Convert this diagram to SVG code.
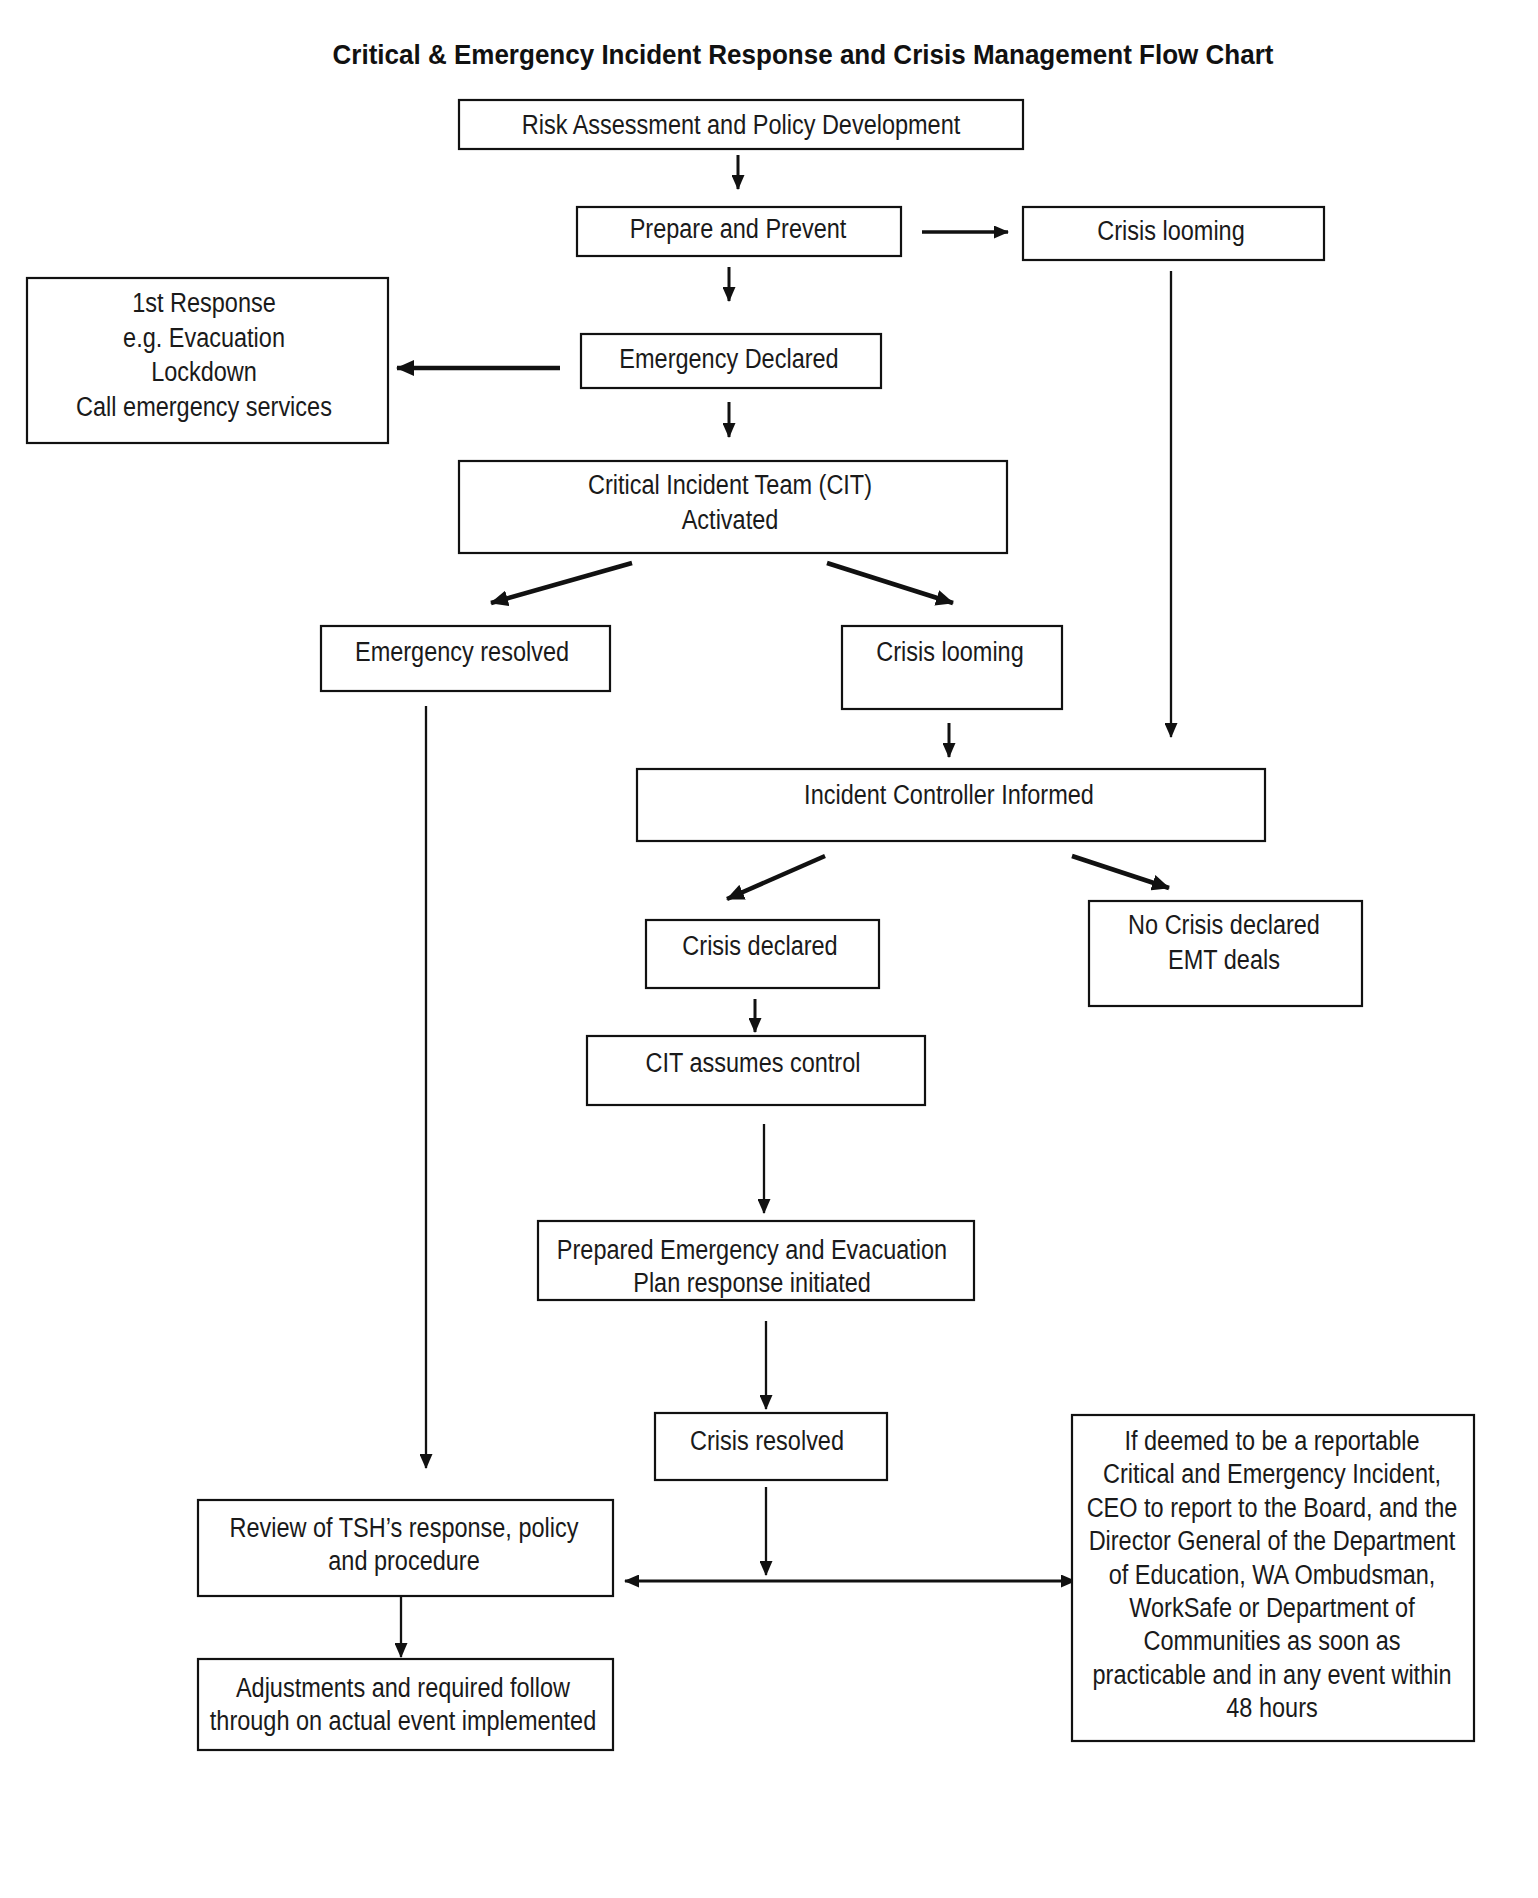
<svg xmlns="http://www.w3.org/2000/svg" width="1538" height="1898" viewBox="0 0 1538 1898">
<style>
.box{fill:#fff;stroke:#111;stroke-width:2.2}
.t{font-family:"Liberation Sans",Arial,sans-serif;font-size:27px;fill:#1a1a1a;text-anchor:middle}
.title{font-family:"Liberation Sans",Arial,sans-serif;font-size:28px;font-weight:bold;fill:#111;text-anchor:middle}
.c{stroke:#111;fill:none;stroke-width:3;marker-end:url(#ah)}
.thick{stroke-width:4.5;marker-end:url(#ahb)}
.thin{stroke-width:2.3}
</style>
<defs>
<marker id="ah" markerUnits="userSpaceOnUse" markerWidth="15" markerHeight="13" refX="14" refY="6.5" orient="auto-start-reverse" viewBox="0 0 15 13">
<path d="M0,0 L15,6.5 L0,13 z" fill="#111"/>
</marker>
<marker id="ahb" markerUnits="userSpaceOnUse" markerWidth="18" markerHeight="16" refX="17" refY="8" orient="auto" viewBox="0 0 18 16">
<path d="M0,0 L18,8 L0,16 z" fill="#111"/>
</marker>
</defs>
<rect width="1538" height="1898" fill="#fff"/>
<text class="title" x="803" y="64" textLength="941" lengthAdjust="spacingAndGlyphs">Critical &amp; Emergency Incident Response and Crisis Management Flow Chart</text>

<g id="connectors">
<line class="c" x1="738" y1="155" x2="738" y2="189"/>
<line class="c" x1="922" y1="232" x2="1008" y2="232" style="stroke-width:3.5"/>
<line class="c thin" x1="1171" y1="271" x2="1171" y2="737"/>
<line class="c" x1="729" y1="267" x2="729" y2="301"/>
<line class="c thick" x1="560" y1="368" x2="397" y2="368"/>
<line class="c" x1="729" y1="402" x2="729" y2="437"/>
<line class="c thick" x1="632" y1="563" x2="491" y2="603"/>
<line class="c thick" x1="827" y1="563" x2="953" y2="603"/>
<line class="c thin" x1="426" y1="706" x2="426" y2="1468"/>
<line class="c" x1="949" y1="723" x2="949" y2="757"/>
<line class="c thick" x1="825" y1="856" x2="727" y2="899"/>
<line class="c thick" x1="1072" y1="856" x2="1169" y2="888"/>
<line class="c" x1="755" y1="999" x2="755" y2="1032"/>
<line class="c thin" x1="764" y1="1124" x2="764" y2="1213"/>
<line class="c thin" x1="766" y1="1321" x2="766" y2="1409"/>
<line class="c thin" x1="766" y1="1487" x2="766" y2="1575"/>
<line class="c" x1="625" y1="1581" x2="1075" y2="1581" style="marker-start:url(#ah)"/>
<line class="c thin" x1="401" y1="1597" x2="401" y2="1657"/>
</g>

<g id="risk"><rect class="box" x="459" y="100" width="564" height="49"/>
<text class="t" transform="translate(741 134) scale(0.87 1)">Risk Assessment and Policy Development</text></g>

<g id="prepare"><rect class="box" x="577" y="207" width="324" height="49"/>
<text class="t" transform="translate(738 238) scale(0.87 1)">Prepare and Prevent</text></g>

<g id="looming1"><rect class="box" x="1023" y="207" width="301" height="53"/>
<text class="t" transform="translate(1171 240) scale(0.87 1)">Crisis looming</text></g>

<g id="firstresponse"><rect class="box" x="27" y="278" width="361" height="165"/>
<text class="t" transform="translate(204 312) scale(0.87 1)"><tspan x="0" y="0">1st Response</tspan><tspan x="0" y="35">e.g. Evacuation</tspan><tspan x="0" y="69">Lockdown</tspan><tspan x="0" y="104">Call emergency services</tspan></text></g>

<g id="emergency"><rect class="box" x="581" y="334" width="300" height="54"/>
<text class="t" transform="translate(729 368) scale(0.87 1)">Emergency Declared</text></g>

<g id="cit"><rect class="box" x="459" y="461" width="548" height="92"/>
<text class="t" transform="translate(730 494) scale(0.87 1)"><tspan x="0" y="0">Critical Incident Team (CIT)</tspan><tspan x="0" y="35">Activated</tspan></text></g>

<g id="resolved"><rect class="box" x="321" y="626" width="289" height="65"/>
<text class="t" transform="translate(462 661) scale(0.87 1)">Emergency resolved</text></g>

<g id="looming2"><rect class="box" x="842" y="626" width="220" height="83"/>
<text class="t" transform="translate(950 661) scale(0.87 1)">Crisis looming</text></g>

<g id="controller"><rect class="box" x="637" y="769" width="628" height="72"/>
<text class="t" transform="translate(949 804) scale(0.87 1)">Incident Controller Informed</text></g>

<g id="crisisdeclared"><rect class="box" x="646" y="920" width="233" height="68"/>
<text class="t" transform="translate(760 955) scale(0.87 1)">Crisis declared</text></g>

<g id="nocrisis"><rect class="box" x="1089" y="901" width="273" height="105"/>
<text class="t" transform="translate(1224 934) scale(0.87 1)"><tspan x="0" y="0">No Crisis declared</tspan><tspan x="0" y="35">EMT deals</tspan></text></g>

<g id="citcontrol"><rect class="box" x="587" y="1036" width="338" height="69"/>
<text class="t" transform="translate(753 1072) scale(0.87 1)">CIT assumes control</text></g>

<g id="plan"><rect class="box" x="538" y="1221" width="436" height="79"/>
<text class="t" transform="translate(752 1259) scale(0.87 1)"><tspan x="0" y="0">Prepared Emergency and Evacuation</tspan><tspan x="0" y="33">Plan response initiated</tspan></text></g>

<g id="crisisresolved"><rect class="box" x="655" y="1413" width="232" height="67"/>
<text class="t" transform="translate(767 1450) scale(0.87 1)">Crisis resolved</text></g>

<g id="review"><rect class="box" x="198" y="1500" width="415" height="96"/>
<text class="t" transform="translate(404 1537) scale(0.87 1)"><tspan x="0" y="0">Review of TSH’s response, policy</tspan><tspan x="0" y="33">and procedure</tspan></text></g>

<g id="adjust"><rect class="box" x="198" y="1659" width="415" height="91"/>
<text class="t" transform="translate(403 1697) scale(0.87 1)"><tspan x="0" y="0">Adjustments and required follow</tspan><tspan x="0" y="33">through on actual event implemented</tspan></text></g>

<g id="report"><rect class="box" x="1072" y="1415" width="402" height="326"/>
<text class="t" transform="translate(1272 1450) scale(0.87 1)"><tspan x="0" y="0">If deemed to be a reportable</tspan><tspan x="0" y="33.4">Critical and Emergency  Incident,</tspan><tspan x="0" y="66.8">CEO to report to the Board, and the</tspan><tspan x="0" y="100.2">Director General of the Department</tspan><tspan x="0" y="133.6">of Education, WA Ombudsman,</tspan><tspan x="0" y="167">WorkSafe or Department of</tspan><tspan x="0" y="200.4">Communities as soon as</tspan><tspan x="0" y="233.8">practicable and in any event within</tspan><tspan x="0" y="267.2">48 hours</tspan></text></g>
</svg>
